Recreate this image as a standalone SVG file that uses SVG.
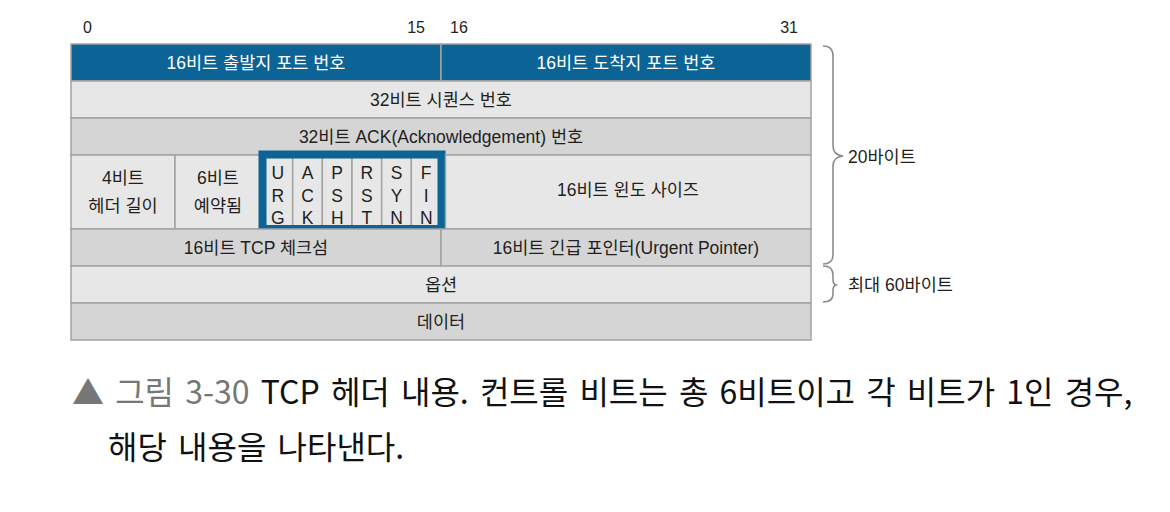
<svg xmlns="http://www.w3.org/2000/svg" width="1170" height="512" viewBox="0 0 1170 512">
<style>
.t{font-family:"Liberation Sans","Noto Sans CJK KR",sans-serif;font-size:17.5px;fill:#231f20;text-anchor:middle;dominant-baseline:central}
.w{fill:#ffffff}
.n{font-family:"Liberation Sans","Noto Sans CJK KR",sans-serif;font-size:16px;fill:#231f20}
.lt{fill:#e7e7e7;stroke:#a3a3a3;stroke-width:1.5}
.dk{fill:#d5d5d5;stroke:#a3a3a3;stroke-width:1.5}
.bl{fill:#0c6395;stroke:#a3a3a3;stroke-width:1.5}
.fl{font-family:"Liberation Sans",sans-serif;font-size:17.5px;fill:#231f20;text-anchor:middle}
.br{fill:none;stroke:#8c8c8c;stroke-width:1.6}
.lb{font-family:"Liberation Sans","Noto Sans CJK KR",sans-serif;font-size:17.5px;fill:#231f20;dominant-baseline:central}
.cap{font-family:"Noto Sans CJK KR","Noto Sans",sans-serif;font-size:32px;fill:#111111}
</style>
<g id="bit-numbers">
<text class="n" x="83" y="33">0</text>
<text class="n" x="425" y="33" text-anchor="end">15</text>
<text class="n" x="450" y="33">16</text>
<text class="n" x="798" y="33" text-anchor="end">31</text>
</g>
<g id="src-port"><rect class="bl" x="71" y="44" width="370" height="37"/><text class="t w" x="256" y="62.5">16비트 출발지 포트 번호</text></g>
<g id="dst-port"><rect class="bl" x="441" y="44" width="370" height="37"/><text class="t w" x="626" y="62.5">16비트 도착지 포트 번호</text></g>
<g id="seq"><rect class="lt" x="71" y="81" width="740" height="37"/><text class="t" x="441" y="99.5">32비트 시퀀스 번호</text></g>
<g id="ack"><rect class="dk" x="71" y="118" width="740" height="37"/><text class="t" x="441" y="136.5">32비트 ACK(Acknowledgement) 번호</text></g>
<g id="hlen"><rect class="lt" x="71" y="155" width="104" height="74"/><text class="t" x="123" y="178">4비트</text><text class="t" x="123" y="206">헤더 길이</text></g>
<g id="reserved"><rect class="lt" x="175" y="155" width="88" height="74"/><text class="t" x="218" y="178">6비트</text><text class="t" x="218" y="206">예약됨</text></g>
<g id="flags">
<rect class="lt" x="263" y="155" width="29.67" height="74"/>
<rect class="lt" x="292.67" y="155" width="29.67" height="74"/>
<rect class="lt" x="322.33" y="155" width="29.67" height="74"/>
<rect class="lt" x="352" y="155" width="29.67" height="74"/>
<rect class="lt" x="381.67" y="155" width="29.67" height="74"/>
<rect class="lt" x="411.33" y="155" width="29.67" height="74"/>
<text class="fl" x="277.8" y="179">U</text><text class="fl" x="277.8" y="202">R</text><text class="fl" x="277.8" y="223.5">G</text>
<text class="fl" x="307.5" y="179">A</text><text class="fl" x="307.5" y="202">C</text><text class="fl" x="307.5" y="223.5">K</text>
<text class="fl" x="337.2" y="179">P</text><text class="fl" x="337.2" y="202">S</text><text class="fl" x="337.2" y="223.5">H</text>
<text class="fl" x="366.8" y="179">R</text><text class="fl" x="366.8" y="202">S</text><text class="fl" x="366.8" y="223.5">T</text>
<text class="fl" x="396.5" y="179">S</text><text class="fl" x="396.5" y="202">Y</text><text class="fl" x="396.5" y="223.5">N</text>
<text class="fl" x="426.2" y="179">F</text><text class="fl" x="426.2" y="202">I</text><text class="fl" x="426.2" y="223.5">N</text>
<rect x="262.5" y="154.5" width="179" height="74.5" fill="none" stroke="#0c6395" stroke-width="8"/>
</g>
<g id="window"><rect class="lt" x="445.5" y="155" width="365.5" height="74"/><text class="t" x="628" y="190">16비트 윈도 사이즈</text></g>
<g id="checksum"><rect class="dk" x="71" y="229" width="370" height="37"/><text class="t" x="256" y="247.5">16비트 TCP 체크섬</text></g>
<g id="urgent"><rect class="dk" x="441" y="229" width="370" height="37"/><text class="t" x="626" y="247.5">16비트 긴급 포인터(Urgent Pointer)</text></g>
<g id="options"><rect class="lt" x="71" y="266" width="740" height="37"/><text class="t" x="441" y="284.5">옵션</text></g>
<g id="data"><rect class="dk" x="71" y="303" width="740" height="37"/><text class="t" x="441" y="321.5">데이터</text></g>
<g id="connectors">
<path class="br" d="M823,46 Q833,46 833,56 L833,146 Q833,155 843,156 Q833,157 833,166 L833,255 Q833,264 823,264"/>
<path class="br" d="M823,266 Q833,266 833,275 L833,280 Q833,284 836,285 Q833,286 833,290 L833,294 Q833,302 823,302"/>
</g>
<g id="label-20"><text class="lb" x="848" y="157">20바이트</text></g>
<g id="label-60"><text class="lb" x="848" y="285">최대 60바이트</text></g>
<g id="caption">
<text class="cap" x="72" y="404" word-spacing="4"><tspan fill="#777777">▲ 그림 3-30</tspan> TCP 헤더 내용. 컨트롤 비트는 총 6비트이고 각 비트가 1인 경우,</text>
<text class="cap" x="108" y="459" word-spacing="4">해당 내용을 나타낸다.</text>
</g>
</svg>
